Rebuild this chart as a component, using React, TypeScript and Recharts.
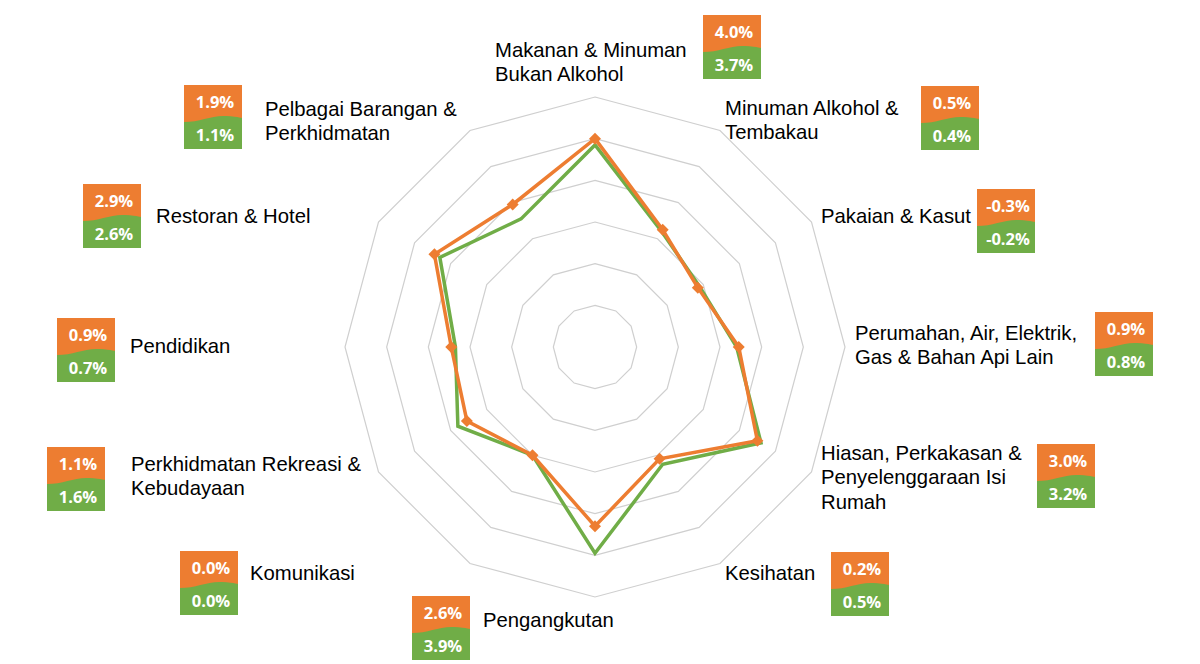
import React from "react";
import { RadarChart, Radar, PolarGrid, PolarAngleAxis, PolarRadiusAxis } from "recharts";

// kategori perbelanjaan, mengikut arah jam dari atas
const categories = [
  "Makanan & Minuman Bukan Alkohol",
  "Minuman Alkohol & Tembakau",
  "Pakaian & Kasut",
  "Perumahan, Air, Elektrik, Gas & Bahan Api Lain",
  "Hiasan, Perkakasan & Penyelenggaraan Isi Rumah",
  "Kesihatan",
  "Pengangkutan",
  "Komunikasi",
  "Perkhidmatan Rekreasi & Kebudayaan",
  "Pendidikan",
  "Restoran & Hotel",
  "Pelbagai Barangan & Perkhidmatan",
];

const labelLines = [
  ["Makanan & Minuman", "Bukan Alkohol"],
  ["Minuman Alkohol &", "Tembakau"],
  ["Pakaian & Kasut"],
  ["Perumahan, Air, Elektrik,", "Gas & Bahan Api Lain"],
  ["Hiasan, Perkakasan &", "Penyelenggaraan Isi", "Rumah"],
  ["Kesihatan"],
  ["Pengangkutan"],
  ["Komunikasi"],
  ["Perkhidmatan Rekreasi &", "Kebudayaan"],
  ["Pendidikan"],
  ["Restoran & Hotel"],
  ["Pelbagai Barangan &", "Perkhidmatan"],
];

const orangeValues = [4.0, 0.5, -0.3, 0.9, 3.0, 0.2, 2.6, 0.0, 1.1, 0.9, 2.9, 1.9];
const greenValues = [3.7, 0.4, -0.2, 0.8, 3.2, 0.5, 3.9, 0.0, 1.6, 0.7, 2.6, 1.1];

const radiusDomain = [-6, 6];
const radiusTickCount = 7;

// susun atur label (kiri, garis dasar pertama) dan kotak nilai (kiri, atas)
const labelPos = [
  [495, 57], [725, 115], [821, 223], [855, 340], [821, 460], [725, 580],
  [483, 627], [250, 580], [131, 471], [130, 353], [156, 223], [265, 116],
];
const boxPos = [
  [703, 15], [921, 86], [977, 189], [1095, 312], [1037, 444], [831, 552],
  [412, 596], [180, 551], [47, 447], [57, 318], [83, 184], [184, 85],
];

const ORANGE = "#ED7D31";
const GREEN = "#70AD47";
const LABEL_FONT = "'Liberation Sans', Arial, sans-serif";
const BOX_FONT = "'Open Sans', sans-serif";

const data = categories.map((name, i) => ({
  name,
  orange: orangeValues[i],
  green: greenValues[i],
}));

const pct = (v: number) => `${v.toFixed(1)}%`;

function ValueBox({ x, y, top, bottom }: { x: number; y: number; top: number; bottom: number }) {
  return (
    <g transform={`translate(${x},${y})`}>
      <rect width={58} height={64} fill={ORANGE} />
      <path d="M0 37 C 16 37, 28 30, 42 31 S 58 33, 58 33 L58 64 L0 64 Z" fill={GREEN} />
      <text x={31} y={23} textAnchor="middle" fill="#fff" fontFamily={BOX_FONT} fontWeight={700} fontSize={16.5}>
        {pct(top)}
      </text>
      <text x={31} y={55.5} textAnchor="middle" fill="#fff" fontFamily={BOX_FONT} fontWeight={700} fontSize={16.5}>
        {pct(bottom)}
      </text>
    </g>
  );
}

function CategoryTick(props: any) {
  const i = categories.indexOf(props.payload?.value);
  if (i < 0) return null;
  const [lx, ly] = labelPos[i];
  const [bx, by] = boxPos[i];
  return (
    <g>
      <text x={lx} y={ly} fill="#000" fontFamily={LABEL_FONT} fontSize={20.3}>
        {labelLines[i].map((line, k) => (
          <tspan key={k} x={lx} dy={k === 0 ? 0 : 24.4}>
            {line}
          </tspan>
        ))}
      </text>
      <ValueBox x={bx} y={by} top={orangeValues[i]} bottom={greenValues[i]} />
    </g>
  );
}

function Diamond(p: any) {
  const { cx, cy } = p;
  if (cx == null || cy == null) return null;
  const s = 6;
  return (
    <path
      key={p.index}
      d={`M${cx} ${cy - s} L${cx + s} ${cy} L${cx} ${cy + s} L${cx - s} ${cy} Z`}
      fill={ORANGE}
    />
  );
}

export default function App() {
  return (
    <div style={{ position: "absolute", left: 0, top: 0, width: 1200, height: 664, background: "#fff" }}>
      <RadarChart width={1200} height={664} data={data} cx={595} cy={347} outerRadius={250}>
        <PolarGrid gridType="polygon" radialLines={false} stroke="#cfcfcf" strokeWidth={1.2} />
        <PolarRadiusAxis
          type="number"
          domain={radiusDomain}
          tickCount={radiusTickCount}
          tick={false}
          axisLine={false}
        />
        <PolarAngleAxis dataKey="name" axisLine={false} tickLine={false} tick={CategoryTick} />
        <Radar
          dataKey="green"
          stroke={GREEN}
          strokeWidth={3.5}
          fill="none"
          fillOpacity={0}
          dot={{ r: 4, fill: GREEN, stroke: "none" }}
          isAnimationActive={false}
        />
        <Radar
          dataKey="orange"
          stroke={ORANGE}
          strokeWidth={3.5}
          fill="none"
          fillOpacity={0}
          dot={Diamond}
          isAnimationActive={false}
        />
      </RadarChart>
    </div>
  );
}
